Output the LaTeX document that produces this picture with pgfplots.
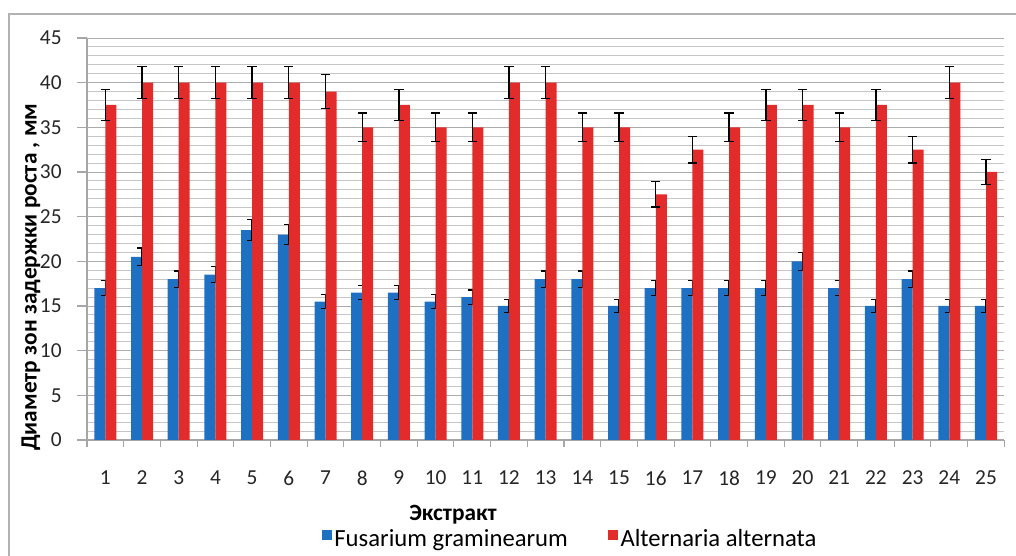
\documentclass[border=0pt]{standalone}
\usepackage{pgfplots}
\usepackage{pgfplotstable}
\pgfplotsset{compat=1.18}
\usepackage{fontspec}
\setmainfont{Carlito}
\definecolor{fblue}{RGB}{30,112,195}
\definecolor{ared}{RGB}{226,43,43}

\pgfplotstableread{
x  f    fe    a    ae
1  17   0.85  37.5 1.7
2  20.5 1.0   40   1.8
3  18   0.9   40   1.8
4  18.5 0.9   40   1.8
5  23.5 1.15  40   1.8
6  23   1.1   40   1.8
7  15.5 0.8   39   1.9
8  16.5 0.8   35   1.6
9  16.5 0.8   37.5 1.7
10 15.5 0.8   35   1.6
11 16   0.8   35   1.6
12 15   0.75  40   1.8
13 18   0.9   40   1.8
14 18   0.9   35   1.6
15 15   0.75  35   1.6
16 17   0.85  27.5 1.4
17 17   0.85  32.5 1.5
18 17   0.85  35   1.6
19 17   0.85  37.5 1.7
20 20   1.0   37.5 1.7
21 17   0.85  35   1.6
22 15   0.75  37.5 1.7
23 18   0.9   32.5 1.5
24 15   0.75  40   1.8
25 15   0.75  30   1.4
}\data

\begin{document}
\begin{tikzpicture}
\useasboundingbox (0,0) rectangle (762pt,417pt);
\draw[gray!60, line width=0.8pt] (6.75pt,0) -- (6.75pt,406.5pt) -- (762pt,406.5pt);
\begin{axis}[
  at={(65.25pt,87pt)}, anchor=south west,
  scale only axis, width=688pt, height=301.5pt,
  xmin=0.5, xmax=25.5, ymin=0, ymax=45,
  ytick={0,5,...,45}, minor y tick num=4,
  xtick={1,...,25},
  minor xtick={0.5,1.5,...,25.5},
  axis x line*=bottom, axis y line*=left,
  axis line style={gray!70, line width=0.8pt},
  tick align=outside,
  major x tick style={draw=none},
  minor x tick style={gray!70, line width=0.8pt},
  major y tick style={gray!70, line width=0.8pt},
  minor y tick style={draw=none},
  major tick length=7.5pt, minor tick length=5pt,
  ymajorgrids, yminorgrids,
  major grid style={gray!65, line width=0.7pt},
  minor grid style={gray!45, line width=0.7pt},
  /pgf/number format/assume math mode=true,
  tick label style={font=\fontsize{16}{18}\selectfont, text=black!85},
  xticklabel style={yshift=-12pt},
  yticklabel style={xshift=-8pt},
  xlabel={\bfseries Экстракт},
  xlabel style={at={(axis description cs:0.399,-0.187)}, anchor=center, font=\fontsize{17.5}{20}\selectfont},
  ylabel={\bfseries Диаметр зон задержки роста , мм},
  ylabel style={at={(axis description cs:-0.061,0.405)}, anchor=center, font=\fontsize{17.5}{20}\selectfont},
  legend columns=2,
  legend style={draw=none, fill=none, at={(axis description cs:0.527,-0.246)}, anchor=center,
    font=\fontsize{18.5}{21}\selectfont,
    /tikz/every even column/.append style={column sep=28pt}},
  legend image code/.code={\fill[#1] (0pt,-1pt) rectangle (7.5pt,6.5pt);},
  clip=false,
]
\addplot[ybar, bar width=0.3, bar shift=-0.15, fill=fblue, draw=none,
  error bars/.cd, y dir=both, y explicit,
  error bar style={black, line width=1pt},
  error mark options={rotate=90, mark size=3.5pt, line width=1pt, black}]
  table[x=x, y=f, y error=fe] {\data};
\addlegendentry{Fusarium graminearum}
\addplot[ybar, bar width=0.3, bar shift=0.15, fill=ared, draw=none,
  error bars/.cd, y dir=both, y explicit,
  error bar style={black, line width=1pt},
  error mark options={rotate=90, mark size=3.5pt, line width=1pt, black}]
  table[x=x, y=a, y error=ae] {\data};
\addlegendentry{Alternaria alternata}
\end{axis}
\end{tikzpicture}
\end{document}
